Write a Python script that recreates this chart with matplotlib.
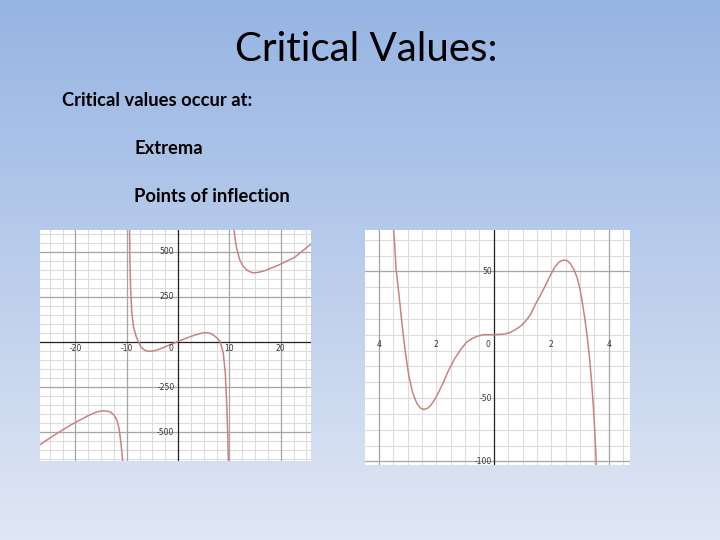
import numpy as np
import matplotlib
matplotlib.use("Agg")
import matplotlib.pyplot as plt

# left graph: rational function, three branches
left_x1 = [-26.9, -24.0, -20.8, -17.5, -15.8, -14.6, -13.3, -12.5, -11.9, -11.5, -11.2, -10.95, -10.8]
left_y1 = [-570, -515, -459, -409, -388, -382, -387, -405, -435, -480, -545, -610, -661]
left_x2 = [-9.45, -9.38, -9.25, -9.03, -8.7, -8.1, -7.2, -6.4, -5.7, -4.8, -3.9, -2.6, -1.3, 0.0, 1.3,
           2.6, 3.9, 4.8, 5.6, 6.3, 6.9, 7.6, 8.2, 8.8, 9.2, 9.5, 9.7, 9.8]
left_y2 = [622, 450, 300, 170, 85, 25, -30, -47, -52, -50, -43, -28, -12, 3, 18,
           32, 44, 50, 52, 48, 38, 22, 2, -60, -170, -360, -530, -661]
left_x3 = [10.9, 11.1, 11.4, 12.0, 12.6, 13.3, 14.0, 14.6, 15.5, 16.9, 19.5, 22.7, 26.0]
left_y3 = [622, 575, 522, 457, 425, 402, 390, 384, 386, 396, 426, 470, 546]

# right graph: polynomial
right_x = [-3.49, -3.45, -3.40, -3.30, -3.19, -3.07, -2.95, -2.82, -2.68, -2.55, -2.43, -2.30, -2.20,
           -2.05, -1.91, -1.74, -1.57, -1.36, -1.16, -0.95, -0.75, -0.55, -0.35, 0.0, 0.35, 0.55,
           0.75, 0.95, 1.10, 1.28, 1.45, 1.62, 1.80, 1.97, 2.14, 2.28, 2.43, 2.56, 2.67, 2.80, 2.90,
           3.00, 3.07, 3.16, 3.25, 3.33, 3.40, 3.46, 3.52, 3.57]
right_y = [84, 72, 52, 32, 8, -15, -33, -46, -54, -58, -59, -58, -56,
           -51, -45, -37, -28, -19, -12, -6, -3, -1, 0, 0, 0.5, 1.5,
           4, 7, 10.5, 16, 24, 31, 39, 47, 54, 57.5, 59, 58.5, 56, 51, 45,
           36, 27, 14, -1, -18, -36, -55, -78, -104]

left_xticks = [-20, -10, 0, 10, 20]
left_yticks = [500, 250, -250, -500]
right_xticks = [-4, -2, 0, 2, 4]
right_xlabels = ["4", "2", "0", "2", "4"]
right_yticks = [50, -50, -100]

curve_color = "#c98282"

fig = plt.figure(figsize=(7.2, 5.4), dpi=100)

# slide background gradient
bg = fig.add_axes([0, 0, 1, 1])
grad = np.linspace(0, 1, 256).reshape(-1, 1)
top = np.array([150, 180, 227]) / 255
bot = np.array([224, 231, 244]) / 255
img = top + (bot - top) * grad[:, :, None]
bg.imshow(img, aspect="auto", extent=[0, 1, 0, 1])
bg.set_xlim(0, 1)
bg.set_ylim(0, 1)
bg.axis("off")

font = "Lato"
fig.text(366 / 720, 1 - 61 / 540, "Critical Values:", ha="center", va="baseline",
         fontsize=29, family=font, color="black")
fig.text(62 / 720, 1 - 106 / 540, "Critical values occur at:", ha="left", va="baseline",
         fontsize=13.2, family=font, fontweight="bold", color="black")
fig.text(134 / 720, 1 - 154 / 540, "Extrema", ha="left", va="baseline",
         fontsize=13.2, family=font, fontweight="bold", color="black")
fig.text(134 / 720, 1 - 202 / 540, "Points of inflection", ha="left", va="baseline",
         fontsize=13.2, family=font, fontweight="bold", color="black")


def graph(rect, xlim, ylim, xminor, yminor, xmajor, ymajor, draw_xaxis):
    ax = fig.add_axes(rect)
    ax.set_facecolor("white")
    ax.set_xlim(*xlim)
    ax.set_ylim(*ylim)
    for v in np.arange(np.ceil(xlim[0] / xminor) * xminor, xlim[1], xminor):
        ax.axvline(v, color="#dcdcdc", lw=0.8, zorder=1)
    for v in np.arange(np.ceil(ylim[0] / yminor) * yminor, ylim[1], yminor):
        ax.axhline(v, color="#dcdcdc", lw=0.8, zorder=1)
    for v in xmajor:
        ax.axvline(v, color="#a6a6a6", lw=0.9, zorder=2)
    for v in ymajor:
        ax.axhline(v, color="#a6a6a6", lw=0.9, zorder=2)
    ax.axvline(0, color="#222222", lw=0.9, zorder=3)
    if draw_xaxis:
        ax.axhline(0, color="#222222", lw=0.9, zorder=3)
    ax.set_xticks([])
    ax.set_yticks([])
    for s in ax.spines.values():
        s.set_visible(False)
    return ax


# left graph
ax1 = graph([40 / 720, 1 - 461 / 540, 271 / 720, 231 / 540], (-26.9, 25.9), (-661, 622),
            2.5, 50, [-20, -10, 10, 20], [500, 250, -250, -500], True)
for xs, ys in [(left_x1, left_y1), (left_x2, left_y2), (left_x3, left_y3)]:
    ax1.plot(xs, ys, color=curve_color, lw=1.1, zorder=4, solid_capstyle="round")
for t in left_xticks:
    ax1.text(t if t != 0 else -0.9, -10, str(t), ha="center" if t != 0 else "right", va="top",
             fontsize=5.5, family="DejaVu Sans", color="#333333", zorder=5)
for t in left_yticks:
    ax1.text(-0.7, t, str(t), ha="right", va="center", fontsize=5.5,
             family="DejaVu Sans", color="#333333", zorder=5)

# right graph
ax2 = graph([365 / 720, 1 - 465 / 540, 265 / 720, 235 / 540], (-4.48, 4.74), (-102.9, 82.7),
            0.5, 12.5, [-4, 4], [50, -100], False)
ax2.plot(right_x, right_y, color=curve_color, lw=1.1, zorder=4, solid_capstyle="round")
for t, lab in zip(right_xticks, right_xlabels):
    ax2.text(t if t != 0 else -0.2, -8, lab, ha="center", va="center",
             fontsize=5.5, family="DejaVu Sans", color="#333333", zorder=5)
for t in right_yticks:
    ax2.text(-0.05, t, str(t), ha="right", va="center", fontsize=5.5,
             family="DejaVu Sans", color="#333333", zorder=5)

fig.savefig("out.png", dpi=100)
